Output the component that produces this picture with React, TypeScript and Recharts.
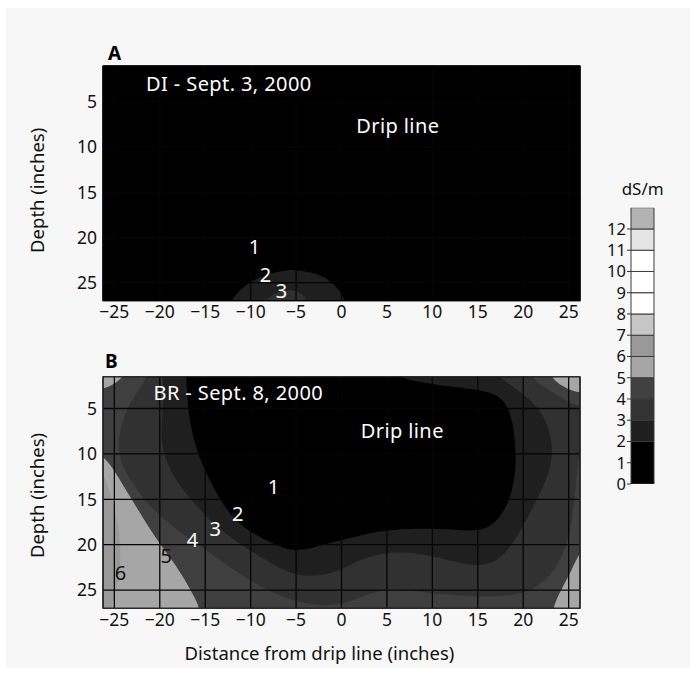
import React from "react"
import {
  ScatterChart,
  Scatter,
  XAxis,
  YAxis,
  CartesianGrid,
  ReferenceArea,
  ReferenceDot,
  BarChart,
  Bar,
} from "recharts"

const FONT = "'Noto Sans', 'Open Sans', sans-serif"

// axes
const X_TICKS = [-25, -20, -15, -10, -5, 0, 5, 10, 15, 20, 25]
const DEPTH_TICKS = [5, 10, 15, 20, 25]
const X_DOMAIN: [number, number] = [-26.25, 26.25]
const DEPTH_A: [number, number] = [1, 27]
const DEPTH_B: [number, number] = [1.5, 27]

// contour outlines, [distance, depth] (points past the frame get clipped)
// panel A - DI, Sept. 3
const A_GE2: [number, number][] = [
  [-12.8, 29], [-12.8, 29], [-12.2, 27], [-11.2, 25.8], [-10.0, 24.9], [-8.8, 24.3], [-7.5, 23.9],
  [-6.0, 23.6], [-4.9, 23.6], [-3.4, 23.85], [-2.0, 24.3], [-0.9, 25.1], [-0.1, 26.0], [0.4, 27],
  [0.9, 29], [0.9, 29],
]
const A_GE3: [number, number][] = [
  [-9.0, 28.5], [-8.4, 27], [-7.7, 26.4], [-7.0, 26.0], [-6.0, 25.75], [-5.0, 25.9], [-4.3, 26.3],
  [-3.8, 27], [-3.3, 28.5],
]

// panel B - BR, Sept. 8
const B_GE6: [number, number][] = [
  [-30, 10.5], [-30, 10.5], [-30, 10.5], [-26.4, 11.5], [-25.5, 14], [-24.6, 17.5], [-24.2, 21],
  [-24.6, 24.5], [-25.5, 27], [-25.7, 31], [-25.7, 31], [-25.7, 31], [-30, 31], [-30, 31], [-30, 31],
]
const B_LT5: [number, number][] = [
  [-23.5, -3], [-23.5, -3], [-23.5, -3], [-23.3, 0.5], [-24.3, 1.8], [-25.5, 2.6], [-26.6, 2.9],
  [-29, 3], [-29, 3], [-29, 3], [-29, 9.8], [-29, 9.8], [-29, 9.8], [-26.6, 9.8], [-25.3, 11.3],
  [-23.3, 14.7], [-21.8, 17.1], [-20.3, 19.5], [-18.1, 22.4], [-16.6, 25], [-15.5, 27],
  [-15.2, 30], [-15.2, 30], [-15.2, 30], [23.4, 30], [23.4, 30], [23.4, 30], [23.1, 27.5],
  [23.8, 25.6], [25.0, 23.5], [26.1, 21.0], [26.8, 20.4], [29, 20.2], [29, 20.2], [29, 20.2],
  [29, 3.3], [29, 3.3], [29, 3.3], [26.7, 3.3], [25.5, 3.1], [24.2, 2.5], [23.2, 1.7],
  [22.7, 0.5], [22.5, -3], [22.5, -3], [22.5, -3],
]
const B_LT4: [number, number][] = [
  [-21.2, -3], [-21.2, -3], [-21.2, -3], [-21.0, 0.5], [-21.8, 2.3], [-23.0, 3.8], [-24.0, 6.0],
  [-24.6, 8.5], [-24.4, 10.8], [-23.2, 13.0], [-21.6, 15.2], [-19.4, 17.4], [-16.5, 19.5],
  [-13.5, 21.6], [-10.5, 23.7], [-7.5, 25.4], [-4.5, 26.4], [-1.5, 26.8], [1, 26.3], [3.5, 25.2],
  [5.5, 24.8], [8, 25.1], [11, 25.5], [15, 25.7], [18.5, 25.7], [21, 25], [23, 23.5], [24.5, 21],
  [25.4, 17.5], [25.8, 13.5], [26.1, 10], [26.7, 7.8], [29, 7.5], [29, 7.5], [29, 7.5],
  [29, 5], [29, 5], [29, 5], [26.7, 5], [25, 4.3], [23, 3.1], [21.2, 1.9], [20.2, 0.5],
  [20, -3], [20, -3], [20, -3],
]
const B_LT3: [number, number][] = [
  [-20, -3], [-20, -3], [-20, -3], [-19.8, 0.5], [-19.6, 3], [-19.7, 5.5], [-19.9, 8],
  [-19.5, 10.5], [-18.2, 13], [-16.2, 15.5], [-13.9, 17.9], [-11.5, 19.7], [-8.5, 21.6],
  [-5.5, 23.4], [-2.5, 23.5], [0, 22.8], [2.7, 21.3], [5.4, 20.8], [8, 20.9], [10.2, 21.3],
  [13, 22.0], [15.3, 22.4], [17.2, 21.8], [18.8, 20.0], [20.2, 17.5], [21.8, 14.5], [23.0, 11.8],
  [23.3, 9.2], [22.6, 6.3], [21.2, 4.4], [19.5, 3.0], [17.6, 1.8], [16.6, 0.5],
  [16.4, -3], [16.4, -3], [16.4, -3],
]
const B_LT2: [number, number][] = [
  [-17.4, -3], [-17.4, -3], [-17.4, -3], [-17.2, 0.5], [-17.0, 3], [-16.9, 5], [-16.5, 7.5],
  [-15.8, 10], [-14.8, 12.3], [-13.4, 15], [-11.9, 17.2], [-9.7, 18.8], [-7.5, 19.9],
  [-5.4, 20.8], [-3, 20.3], [-0.1, 19.5], [2.7, 18.8], [5.4, 18.3], [10.1, 18.2], [13, 18.4],
  [15.0, 18.5], [16.6, 17.9], [17.8, 16.5], [18.6, 14.7], [19.1, 12.5], [19.2, 10.5],
  [19.1, 8.5], [18.8, 6.3], [18.2, 4.6], [17.2, 3.5], [15.5, 3.0], [13, 2.7], [10.5, 2.4],
  [8, 2.0], [6.3, 1.5], [5.3, 0.5], [5, -3], [5, -3], [5, -3],
]

const LABELS_A = [
  { x: -12.4, y: 2.96, text: "DI - Sept. 3, 2000", color: "#ffffff" },
  { x: 6.2, y: 7.67, text: "Drip line", color: "#ffffff" },
  { x: -9.57, y: 21.08, text: "1", color: "#ffffff" },
  { x: -8.35, y: 24.1, text: "2", color: "#ffffff" },
  { x: -6.58, y: 25.86, text: "3", color: "#ffffff" },
]
const LABELS_B = [
  { x: -11.36, y: 3.23, text: "BR - Sept. 8, 2000", color: "#ffffff" },
  { x: 6.69, y: 7.48, text: "Drip line", color: "#ffffff" },
  { x: -7.46, y: 13.59, text: "1", color: "#ffffff" },
  { x: -11.41, y: 16.62, text: "2", color: "#ffffff" },
  { x: -13.89, y: 18.29, text: "3", color: "#ffffff" },
  { x: -16.37, y: 19.47, text: "4", color: "#ffffff" },
  { x: -19.27, y: 21.25, text: "5", color: "#111111" },
  { x: -24.31, y: 23.05, text: "6", color: "#111111" },
]

// colour scale, dS/m
const SCALE_TICKS = [0, 1, 2, 3, 4, 5, 6, 7, 8, 9, 10, 11, 12]
const BAND_SIZES = [2, 1, 1, 1, 1, 1, 1, 1, 1, 1, 1, 1]
const BAND_COLORS = [
  "#000000", "#1f1f1f", "#333333", "#414141", "#a6a6a6", "#999999",
  "#c6c6c6", "#ffffff", "#ffffff", "#ffffff", "#e5e5e5", "#b3b3b3",
]

const LAYERS_A = [
  { name: "a-2", points: A_GE2, color: "#1f1f1f" },
  { name: "a-3", points: A_GE3, color: "#2f2f2f" },
]
const LAYERS_B = [
  { name: "b-6", points: B_GE6, color: "#999999" },
  { name: "b-5", points: B_LT5, color: "#3f3f3f" },
  { name: "b-4", points: B_LT4, color: "#313131" },
  { name: "b-3", points: B_LT3, color: "#1f1f1f" },
  { name: "b-2", points: B_LT2, color: "#000000" },
]

const SCALE_ROW = [
  Object.fromEntries([["name", "dS/m"], ...BAND_SIZES.map((v, i) => [`b${i}`, v])]),
]

const toPoints = (pts: [number, number][]) => pts.map(([x, y]) => ({ x, y }))
const fmtTick = (v: number) => (v < 0 ? `\u2212${Math.abs(v)}` : String(v))
const NoDot = () => <g />

type Layer = { name: string; points: [number, number][]; color: string }
type Note = { x: number; y: number; text: string; color: string }

function ContourPanel(props: {
  top: number
  height: number
  margin: { top: number; right: number; bottom: number; left: number }
  depth: [number, number]
  base: string
  frame: string
  layers: Layer[]
  labels: Note[]
  xAxisHeight: number
  xTitle?: string
  depthDy: number
}) {
  const { top, height, margin, depth, base, frame, layers, labels, xAxisHeight, xTitle, depthDy } = props
  return (
    <div style={{ position: "absolute", left: 0, top }}>
      <ScatterChart width={600} height={height} margin={margin}>
        <XAxis
          type="number"
          dataKey="x"
          domain={X_DOMAIN}
          ticks={X_TICKS}
          interval={0}
          allowDataOverflow
          tickLine={false}
          axisLine={false}
          height={xAxisHeight}
          tickSize={2}
          tickMargin={3}
          tick={{ fontSize: 17.5, fill: "#111" }}
          tickFormatter={fmtTick}
          label={
            xTitle
              ? { value: xTitle, position: "insideBottom", offset: 8.3, dx: -22, fontSize: 18.5, fill: "#111" }
              : undefined
          }
        />
        <YAxis
          type="number"
          dataKey="y"
          domain={depth}
          reversed
          ticks={DEPTH_TICKS}
          interval={0}
          allowDataOverflow
          width={83}
          tickLine={false}
          axisLine={false}
          tickMargin={0}
          tick={{ fontSize: 17.5, fill: "#111" }}
          label={{
            value: "Depth (inches)",
            angle: -90,
            position: "insideLeft",
            offset: 17,
            dy: depthDy,
            style: { textAnchor: "middle" },
            fontSize: 18.5,
            fill: "#111",
          }}
        />
        <ReferenceArea
          x1={X_DOMAIN[0]}
          x2={X_DOMAIN[1]}
          y1={depth[0]}
          y2={depth[1]}
          fill={base}
          fillOpacity={1}
          stroke="none"
          zIndex={-200}
        />
        {layers.map((layer, i) => (
          <Scatter
            key={layer.name}
            name={layer.name}
            data={toPoints(layer.points)}
            fill={layer.color}
            shape={NoDot}
            line={{ fill: layer.color, stroke: "none" }}
            lineType="joint"
            lineJointType="basisClosed"
            isAnimationActive={false}
            zIndex={601 + i}
          />
        ))}
        <CartesianGrid stroke="#050505" strokeWidth={1.3} zIndex={700} />
        <ReferenceArea
          x1={X_DOMAIN[0]}
          x2={X_DOMAIN[1]}
          y1={depth[0]}
          y2={depth[1]}
          fill="none"
          stroke={frame}
          strokeWidth={1.2}
          zIndex={800}
        />
        {labels.map((l, i) => (
          <ReferenceDot
            key={i}
            x={l.x}
            y={l.y}
            r={0}
            fill="none"
            stroke="none"
            zIndex={900}
            label={{
              value: l.text,
              position: "center",
              fill: l.color,
              fontSize: 20,
              style: { letterSpacing: "0.4px" },
            }}
          />
        ))}
      </ScatterChart>
    </div>
  )
}

export default function App() {
  return (
    <div
      style={{
        position: "relative",
        width: 696,
        height: 675,
        background: "#ffffff",
        fontFamily: FONT,
        overflow: "hidden",
      }}
    >
      <style>{"body { margin: 0; }"}</style>
      <div style={{ position: "absolute", left: 6, top: 8, width: 684, height: 660, background: "#f7f7f7" }} />

      <ContourPanel
        top={0}
        height={340}
        margin={{ top: 66, right: 20, bottom: 9.3, left: 20 }}
        depth={DEPTH_A}
        base="#000000"
        frame="#000000"
        layers={LAYERS_A}
        labels={LABELS_A}
        xAxisHeight={30}
        depthDy={7}
      />
      <ContourPanel
        top={300}
        height={375}
        margin={{ top: 76.7, right: 20, bottom: 6.7, left: 20 }}
        depth={DEPTH_B}
        base="#a6a6a6"
        frame="#2b2b2b"
        layers={LAYERS_B}
        labels={LABELS_B}
        xAxisHeight={60}
        xTitle="Distance from drip line (inches)"
        depthDy={3}
      />

      <div style={{ position: "absolute", left: 108, top: 43.7, fontSize: 19, fontWeight: 700, lineHeight: "19px", color: "#000" }}>
        A
      </div>
      <div style={{ position: "absolute", left: 105, top: 351.7, fontSize: 19, fontWeight: 700, lineHeight: "19px", color: "#000" }}>
        B
      </div>

      <div style={{ position: "absolute", left: 560, top: 150 }}>
        <BarChart
          width={110}
          height={350}
          data={SCALE_ROW}
          margin={{ top: 27.7, right: 15.7, bottom: 16, left: 0 }}
          barCategoryGap={0}
          barGap={0}
        >
          <XAxis
            dataKey="name"
            orientation="top"
            height={30}
            tick={false}
            tickLine={false}
            axisLine={false}
            label={{ value: "dS/m", position: "center", dy: -3.5, fontSize: 17, fill: "#111" }}
          />
          <YAxis
            type="number"
            domain={[0, 13]}
            ticks={SCALE_TICKS}
            interval={0}
            allowDataOverflow
            width={71}
            axisLine={false}
            tickLine={{ stroke: "#333" }}
            tickSize={4}
            tickMargin={1}
            tick={{ fontSize: 16.5, fill: "#111" }}
          />
          {BAND_SIZES.map((_, i) => (
            <Bar
              key={i}
              dataKey={`b${i}`}
              stackId="scale"
              fill={BAND_COLORS[i]}
              stroke="#3a3a3a"
              strokeWidth={1}
              isAnimationActive={false}
            />
          ))}
        </BarChart>
      </div>
    </div>
  )
}
